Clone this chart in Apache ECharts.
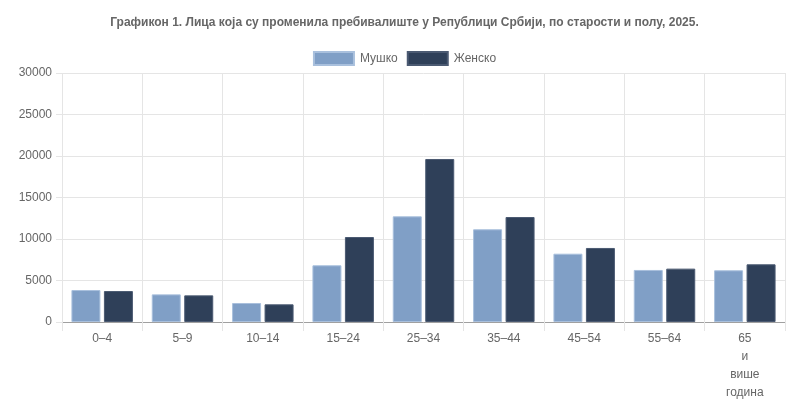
<!DOCTYPE html>
<html>
<head>
<meta charset="utf-8">
<script src="https://cdn.jsdelivr.net/npm/echarts@6/dist/echarts.min.js"></script>
<style>
  html, body { margin: 0; padding: 0; background: #fff; }
  #chart { width: 809px; height: 409px; }
</style>
</head>
<body>
<div id="chart"></div>
<script>
const categories = ['0–4', '5–9', '10–14', '15–24', '25–34', '35–44', '45–54', '55–64', '65\nи\nвише\nгодина'];
const male = [3850, 3330, 2290, 6830, 12730, 11170, 8230, 6270, 6230];
const female = [3730, 3210, 2130, 10240, 19640, 12650, 8920, 6430, 6950];
const seriesNames = ['Мушко', 'Женско'];

const chart = echarts.init(document.getElementById('chart'));

const labelFont = 'Liberation Sans, Arial, sans-serif';

// без линије на десном крају
function notLast(i) {
    return i < categories.length;
}

chart.setOption({
    animation: false,
    textStyle: { fontFamily: labelFont },
    title: {
        text: 'Графикон 1. Лица која су променила пребивалиште у Републици Србији, по старости и полу, 2025.',
        left: 'center',
        top: 12,
        textStyle: {
            fontSize: 12,
            fontWeight: 'bold',
            color: '#666666',
            fontFamily: labelFont
        }
    },
    legend: {
        top: 46,
        left: 'center',
        itemWidth: 40,
        itemHeight: 13,
        itemGap: 9,
        icon: 'rect',
        textStyle: { fontSize: 12, color: '#666666', padding: [0, 0, 0, 1] },
        data: seriesNames
    },
    grid: {
        left: 62,
        right: 24,
        top: 73,
        bottom: 87
    },
    xAxis: {
        type: 'category',
        data: categories,
        axisLine: { lineStyle: { color: '#a0a0a0' } },
        axisTick: { show: true, length: 9, interval: notLast, lineStyle: { color: '#e5e5e5' } },
        splitLine: { show: true, interval: notLast, lineStyle: { color: '#e5e5e5' } },
        axisLabel: {
            color: '#666666',
            fontSize: 12,
            margin: 8,
            lineHeight: 18
        }
    },
    yAxis: {
        type: 'value',
        min: 0,
        max: 30000,
        interval: 5000,
        axisLine: { show: false },
        axisTick: { show: true, length: 6, lineStyle: { color: '#e5e5e5' } },
        splitLine: { lineStyle: { color: '#e5e5e5' } },
        axisLabel: {
            color: '#666666',
            fontSize: 12,
            margin: 10,
            formatter: function (v) { return String(v); }
        }
    },
    series: [
        {
            name: seriesNames[0],
            type: 'bar',
            data: male,
            barWidth: 29,
            barGap: '12%',
            itemStyle: { color: '#809fc6', borderColor: '#a9c0dd', borderWidth: 1 }
        },
        {
            name: seriesNames[1],
            type: 'bar',
            data: female,
            barWidth: 29,
            itemStyle: { color: '#2f4059', borderColor: '#4b5a72', borderWidth: 1 }
        }
    ]
});
</script>
</body>
</html>
